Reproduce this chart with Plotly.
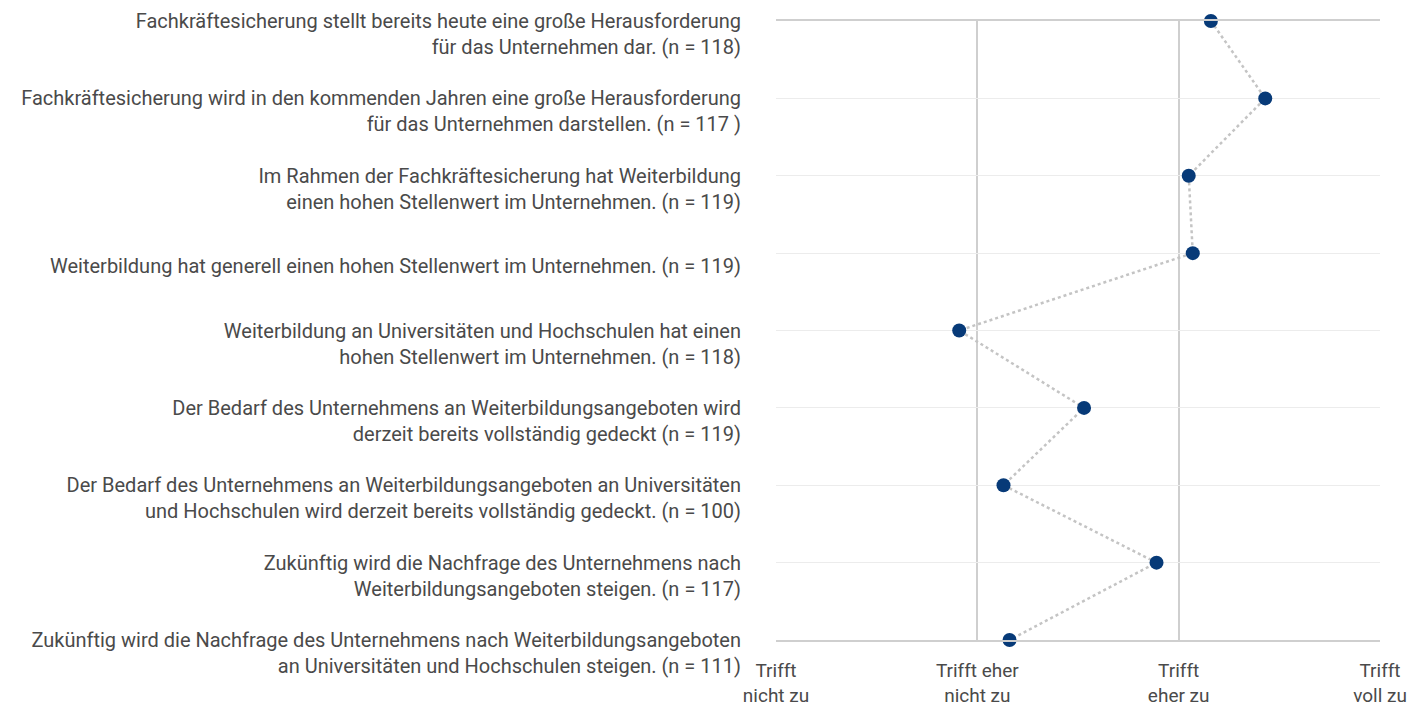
import plotly.graph_objects as go

statements = [
    "Fachkräftesicherung stellt bereits heute eine große Herausforderung<br>für das Unternehmen dar. (n = 118)",
    "Fachkräftesicherung wird in den kommenden Jahren eine große Herausforderung<br>für das Unternehmen darstellen. (n = 117 )",
    "Im Rahmen der Fachkräftesicherung hat Weiterbildung<br>einen hohen Stellenwert im Unternehmen. (n = 119)",
    "Weiterbildung hat generell einen hohen Stellenwert im Unternehmen. (n = 119)",
    "Weiterbildung an Universitäten und Hochschulen hat einen<br>hohen Stellenwert im Unternehmen. (n = 118)",
    "Der Bedarf des Unternehmens an Weiterbildungsangeboten wird<br>derzeit bereits vollständig gedeckt (n = 119)",
    "Der Bedarf des Unternehmens an Weiterbildungsangeboten an Universitäten<br>und Hochschulen wird derzeit bereits vollständig gedeckt. (n = 100)",
    "Zukünftig wird die Nachfrage des Unternehmens nach<br>Weiterbildungsangeboten steigen. (n = 117)",
    "Zukünftig wird die Nachfrage des Unternehmens nach Weiterbildungsangeboten<br>an Universitäten und Hochschulen steigen. (n = 111)",
]
means = [3.16, 3.43, 3.05, 3.07, 1.91, 2.53, 2.13, 2.89, 2.16]

scale_vals = [1, 2, 3, 4]
scale_labels = ["Trifft<br>nicht zu", "Trifft eher<br>nicht zu", "Trifft<br>eher zu", "Trifft<br>voll zu"]

fig = go.Figure()
fig.add_trace(go.Scatter(
    x=means, y=statements, mode="lines+markers",
    line=dict(color="#c4c4c4", width=2.5, dash="dot"),
    marker=dict(color="#073a78", size=14),
    cliponaxis=False, showlegend=False,
))

font = dict(family="Roboto, Liberation Sans, sans-serif", size=20, color="#4a4a4a")
fig.update_layout(
    width=1410, height=703,
    margin=dict(l=768, r=38, t=13, b=71),
    paper_bgcolor="white", plot_bgcolor="white",
    font=font,
    xaxis=dict(range=[1, 4], tickvals=scale_vals, ticktext=scale_labels,
               showgrid=True, gridcolor="#cfcfcf", gridwidth=2,
               showline=True, mirror=True, linecolor="#cfcfcf", linewidth=2,
               zeroline=False, ticks="", ticklabelstandoff=12, automargin=False,
               tickfont=dict(size=19, color="#4a4a4a")),
    yaxis=dict(categoryorder="array", categoryarray=statements,
               range=[len(statements) - 1, 0], showgrid=True,
               gridcolor="#ececec", gridwidth=1, zeroline=False, ticks="",
               ticklabelstandoff=34, ticklabelshift=-13, automargin=False,
               tickfont=dict(size=20, color="#4a4a4a")),
)
fig.write_html("out.html")
